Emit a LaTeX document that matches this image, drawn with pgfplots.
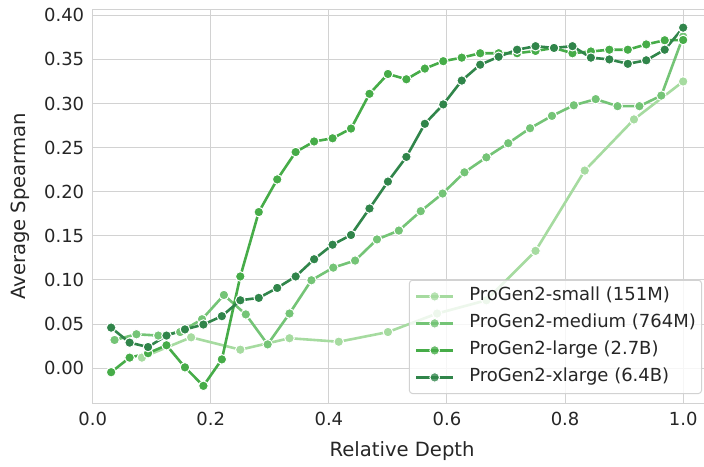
\documentclass[border=0pt]{standalone}
\usepackage{fontspec}
\setmainfont{DejaVu Sans}
\usepackage{pgfplots}
\usepackage{pgfplotstable}
\pgfplotsset{compat=1.18}

\definecolor{cSmall}{RGB}{166,219,160}
\definecolor{cMedium}{RGB}{116,196,118}
\definecolor{cLarge}{RGB}{70,172,72}
\definecolor{cXlarge}{RGB}{48,133,74}
\definecolor{gridgray}{RGB}{210,210,210}
\definecolor{txt}{RGB}{38,38,38}

% ProGen2-small, 12 layers
\pgfplotstableread{
x y
0.0833 0.012
0.1667 0.035
0.2500 0.021
0.3333 0.034
0.4167 0.030
0.5000 0.041
0.5833 0.062
0.6667 0.077
0.7500 0.133
0.8333 0.224
0.9167 0.282
1.0000 0.325
}\tabsmall

% ProGen2-medium, 27 layers
\pgfplotstableread{
x y
0.0370 0.032
0.0741 0.0385
0.1111 0.037
0.1481 0.041
0.1852 0.0555
0.2222 0.083
0.2593 0.061
0.2963 0.027
0.3333 0.062
0.3704 0.0997
0.4074 0.114
0.4444 0.122
0.4815 0.146
0.5185 0.156
0.5556 0.178
0.5926 0.198
0.6296 0.222
0.6667 0.239
0.7037 0.255
0.7407 0.272
0.7778 0.286
0.8148 0.298
0.8519 0.305
0.8889 0.297
0.9259 0.297
0.9630 0.309
1.0000 0.376
}\tabmedium

% ProGen2-large, 32 layers
\pgfplotstableread{
x y
0.03125 -0.0045
0.06250 0.012
0.09375 0.017
0.12500 0.026
0.15625 0.001
0.18750 -0.020
0.21875 0.010
0.25000 0.104
0.28125 0.177
0.31250 0.214
0.34375 0.245
0.37500 0.257
0.40625 0.2606
0.43750 0.2716
0.46875 0.311
0.50000 0.3335
0.53125 0.3275
0.56250 0.3396
0.59375 0.348
0.62500 0.352
0.65625 0.357
0.68750 0.357
0.71875 0.357
0.75000 0.3596
0.78125 0.363
0.81250 0.357
0.84375 0.359
0.87500 0.361
0.90625 0.361
0.93750 0.367
0.96875 0.3717
1.00000 0.372
}\tablarge

% ProGen2-xlarge, 32 layers
\pgfplotstableread{
x y
0.03125 0.046
0.06250 0.029
0.09375 0.024
0.12500 0.037
0.15625 0.044
0.18750 0.0495
0.21875 0.059
0.25000 0.077
0.28125 0.0797
0.31250 0.091
0.34375 0.104
0.37500 0.1235
0.40625 0.140
0.43750 0.151
0.46875 0.181
0.50000 0.2115
0.53125 0.2395
0.56250 0.277
0.59375 0.299
0.62500 0.326
0.65625 0.344
0.68750 0.353
0.71875 0.361
0.75000 0.365
0.78125 0.363
0.81250 0.365
0.84375 0.352
0.87500 0.350
0.90625 0.345
0.93750 0.349
0.96875 0.361
1.00000 0.386
}\tabxlarge

\begin{document}
\begin{tikzpicture}
  \begin{axis}[
      scale only axis,
      width=618.8pt, height=394.2pt,
      xmin=0, xmax=1.048,
      ymin=-0.04, ymax=0.4068,
      xtick={0,0.2,...,1.0},
      ytick={0,0.05,...,0.40},
      xticklabel style={/pgf/number format/fixed, /pgf/number format/fixed zerofill,
        /pgf/number format/precision=1, yshift=-5pt},
      yticklabel style={/pgf/number format/fixed, /pgf/number format/fixed zerofill,
        /pgf/number format/precision=2, xshift=-5pt},
      /pgf/number format/assume math mode=true,
      ticklabel style={font=\fontsize{18}{21}\selectfont, text=txt},
      major tick length=0pt,
      grid=major,
      major grid style={draw=gridgray, line width=1pt},
      axis line style={draw=gridgray, line width=1.3pt},
      xlabel={Relative Depth},
      ylabel={Average Spearman},
      label style={font=\fontsize{19.6}{23}\selectfont, text=txt},
      xlabel style={at={(axis description cs:0.5,-0.134)}, anchor=base},
      ylabel style={at={(axis description cs:-0.1164,0.5)}, anchor=center},
      every axis plot/.append style={line width=2.6pt},
      legend cell align=left,
      legend image code/.code={
        \draw[mark repeat=2, mark phase=2]
          plot coordinates {(0pt,0pt) (18.35pt,0pt) (36.7pt,0pt)};
      },
      legend style={
        at={(axis description cs:0.98465,0.0241)}, anchor=south east,
        font=\fontsize{18}{21}\selectfont, text=txt,
        draw=gridgray, line width=1pt, rounded corners=3pt,
        fill=white, fill opacity=0.8, text opacity=1,
        inner xsep=5.6pt, inner ysep=7.6pt,
        row sep=10pt, column sep=15pt,
        nodes={inner sep=0pt, text height=13pt, text depth=4pt},
      },
    ]
    \addplot[color=cSmall, mark=*, mark size=4.8pt,
      mark options={draw=white, line width=1pt, fill=cSmall}] table {\tabsmall};
    \addlegendentry{ProGen2-small (151M)}
    \addplot[color=cMedium, mark=*, mark size=4.8pt,
      mark options={draw=white, line width=1pt, fill=cMedium}] table {\tabmedium};
    \addlegendentry{ProGen2-medium (764M)}
    \addplot[color=cLarge, mark=*, mark size=4.8pt,
      mark options={draw=white, line width=1pt, fill=cLarge}] table {\tablarge};
    \addlegendentry{ProGen2-large (2.7B)}
    \addplot[color=cXlarge, mark=*, mark size=4.8pt,
      mark options={draw=white, line width=1pt, fill=cXlarge}] table {\tabxlarge};
    \addlegendentry{ProGen2-xlarge (6.4B)}
  \end{axis}
  \pgfresetboundingbox
  \path (current axis.south west) ++(-92.7pt,-62.5pt) rectangle ++(704pt,466pt);
\end{tikzpicture}
\end{document}
